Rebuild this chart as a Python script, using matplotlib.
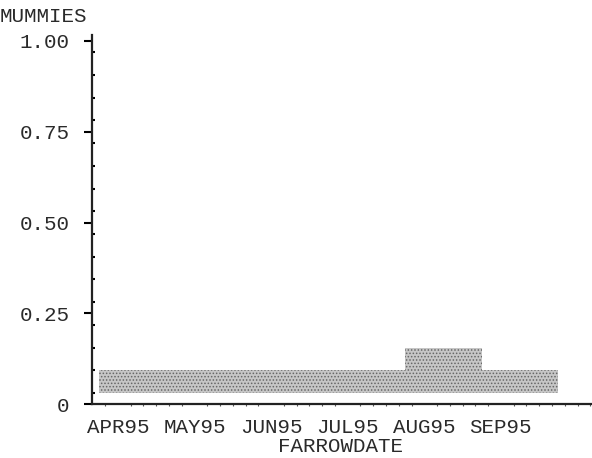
import matplotlib
matplotlib.use('Agg')
import matplotlib.pyplot as plt
import numpy as np

# ---- data ----
months = ['APR95', 'MAY95', 'JUN95', 'JUL95', 'AUG95', 'SEP95']
bar_low = [0.03125, 0.03125, 0.03125, 0.03125, 0.03125, 0.03125]
bar_high = [0.09375, 0.09375, 0.09375, 0.09375, 0.15625, 0.09375]
yticks = [0, 0.25, 0.50, 0.75, 1.00]
yticklabels = ['0', '0.25', '0.50', '0.75', '1.00']
ylabel = 'MUMMIES'
xlabel = 'FARROWDATE'

FONT = 'Liberation Mono'
FS = 15.0
TC = '#2a2a2a'
plt.rcParams['hatch.linewidth'] = 0.7

W, H = 592, 458
fig = plt.figure(figsize=(W / 100, H / 100), dpi=100)
left, right, bottom, top = 91.7, 592, 404.3, 35
ax = fig.add_axes([left / W, (H - bottom) / H, (right - left) / W, (bottom - top) / H])

x = np.arange(len(months))
heights = np.array(bar_high) - np.array(bar_low)
ax.bar(x, heights, bottom=bar_low, width=1.0, align='edge',
       facecolor='#c6c6c6', edgecolor='#666666', hatch='.....', linewidth=0)

ax.set_xlim((left - 98.77) / 76.6, (right - 98.77) / 76.6)
ax.set_ylim(0, (bottom - top) / 363.3)

for s in ['top', 'right']:
    ax.spines[s].set_visible(False)
for s in ['left', 'bottom']:
    ax.spines[s].set_linewidth(1.6)
    ax.spines[s].set_color('#222222')

ax.set_yticks(yticks)
ax.set_yticklabels(yticklabels, fontfamily=FONT, fontsize=FS, color=TC)
ax.set_yticks(np.arange(0.03125, 1.0, 0.0625), minor=True)
ax.tick_params(axis='y', which='major', direction='out', length=6, width=1.5, pad=10)
ax.tick_params(axis='y', which='minor', direction='in', length=2, width=1.5)

ax.set_xticks(x + 0.25)
ax.set_xticklabels(months, fontfamily=FONT, fontsize=FS, color=TC)
ax.set_xticks(np.arange(1 / 12, 6.44, 1 / 6), minor=True)
ax.tick_params(axis='x', which='major', length=0, pad=10)
ax.tick_params(axis='x', which='minor', direction='out', length=1.5, width=0.8, color='#555555')

fig.text(0 / W, 1 - 17 / H, ylabel, ha='left', va='center', fontfamily=FONT, fontsize=FS, color=TC)
fig.text(341 / W, 1 - 447 / H, xlabel, ha='center', va='center', fontfamily=FONT, fontsize=FS, color=TC)

fig.savefig('out.png', dpi=100)
